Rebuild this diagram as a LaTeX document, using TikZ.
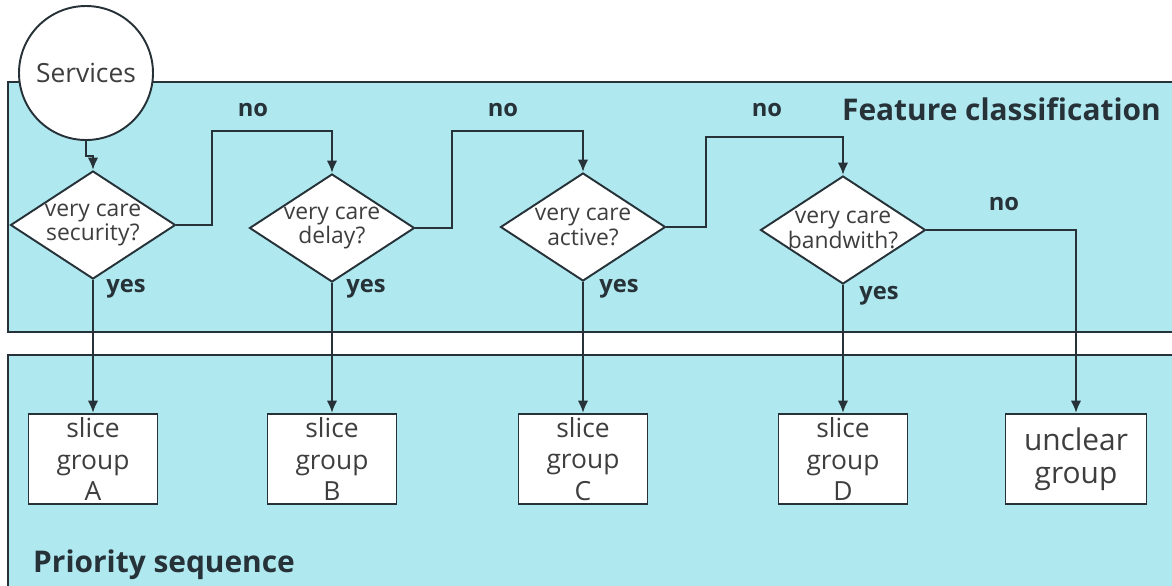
\documentclass[tikz,border=0pt]{standalone}
\usepackage{fontspec}
\setmainfont{Open Sans}
\usetikzlibrary{shapes.geometric,arrows.meta}

\definecolor{panelfill}{RGB}{176,232,240}
\definecolor{linecol}{RGB}{38,50,56}
\definecolor{txtcol}{RGB}{62,62,62}

\begin{document}
\begin{tikzpicture}[x=0.2mm, y=-0.2mm,
	flow/.style={draw=linecol, line width=1.4pt, -{Latex[length=7pt,width=6pt]}},
	panel/.style={fill=panelfill, draw=linecol, line width=1.1pt},
	decision/.style={diamond, draw=linecol, fill=white, line width=1.1pt,
		minimum width=33mm, minimum height=21.6mm, inner sep=0pt},
	asktext/.style={align=center, text=txtcol, font=\fontsize{13}{14}\selectfont},
	slicebox/.style={rectangle, draw=linecol, fill=white, line width=1.1pt,
		minimum width=25.8mm, minimum height=18mm, inner sep=0pt, align=center,
		text=txtcol, font=\fontsize{15}{18}\selectfont},
	answer/.style={text=linecol, font=\bfseries\fontsize{13.5}{16}\selectfont},
	paneltitle/.style={text=linecol, font=\bfseries\fontsize{17}{20}\selectfont}]

	\useasboundingbox (0,0) rectangle (1172,585);

	% two panels
	\draw[panel] (1185,82) -- (8,82) -- (8,332) -- (1185,332);
	\draw[panel] (1185,355) -- (8,355) -- (8,600) -- (1185,600);
	\node[paneltitle, anchor=base east] (feat) at (1167,120) {Feature classification};
	\node[paneltitle, anchor=base west] (prio) at (27,572) {Priority sequence};

	% start and the four questions
	\node[circle, draw=linecol, fill=white, line width=1.1pt, minimum size=26.8mm,
		inner sep=0pt, text=txtcol, font=\fontsize{15}{18}\selectfont] (svc) at (86,73) {Services};
	\node[decision, label={[asktext]center:{very care\\security?}}] (d1) at (93,225) {};
	\node[decision, label={[asktext]center:{very care\\delay?}}] (d2) at (332,228) {};
	\node[decision, label={[asktext]center:{very care\\active?}}] (d3) at (583,227) {};
	\node[decision, label={[asktext]center:{very care\\bandwith?}}] (d4) at (843,230) {};

	% groups
	\node[slicebox] (gA) at (93,459) {slice\\group\\A};
	\node[slicebox] (gB) at (332,459) {slice\\group\\B};
	\node[slicebox] (gC) at (583,459) {slice\\group\\C};
	\node[slicebox] (gD) at (843,459) {slice\\group\\D};
	\node[slicebox, minimum width=28.2mm, font=\fontsize{17}{18.5}\selectfont] (gU) at (1076,459) {unclear\\group};

	% "no" branches
	\coordinate (j1) at (212,131); \coordinate (j2) at (452,131); \coordinate (j3) at (706,137);
	\draw[flow] (svc.south) -- ++(0,15) -| (d1.north);
	\draw[flow] (d1.east) -| (j1) -| (d2.north);
	\draw[flow] (d2.east) -| (j2) -| (d3.north);
	\draw[flow] (d3.east) -| (j3) -| (d4.north);
	\draw[flow] (d4.east) -| (gU.north);
	\node[answer] (no1) at (253,110) {no};
	\node[answer] (no2) at (503,110) {no};
	\node[answer] (no3) at (767,110) {no};
	\node[answer] (no4) at (1004,204) {no};

	% "yes" branches
	\foreach \d/\g in {d1/gA, d2/gB, d3/gC, d4/gD}
		\draw[flow] (\d.south) -- (\g.north);
	\node[answer] (yes1) at (126,289) {yes};
	\node[answer] (yes2) at (366,289) {yes};
	\node[answer] (yes3) at (619,289) {yes};
	\node[answer] (yes4) at (879,296) {yes};

\end{tikzpicture}
\end{document}
